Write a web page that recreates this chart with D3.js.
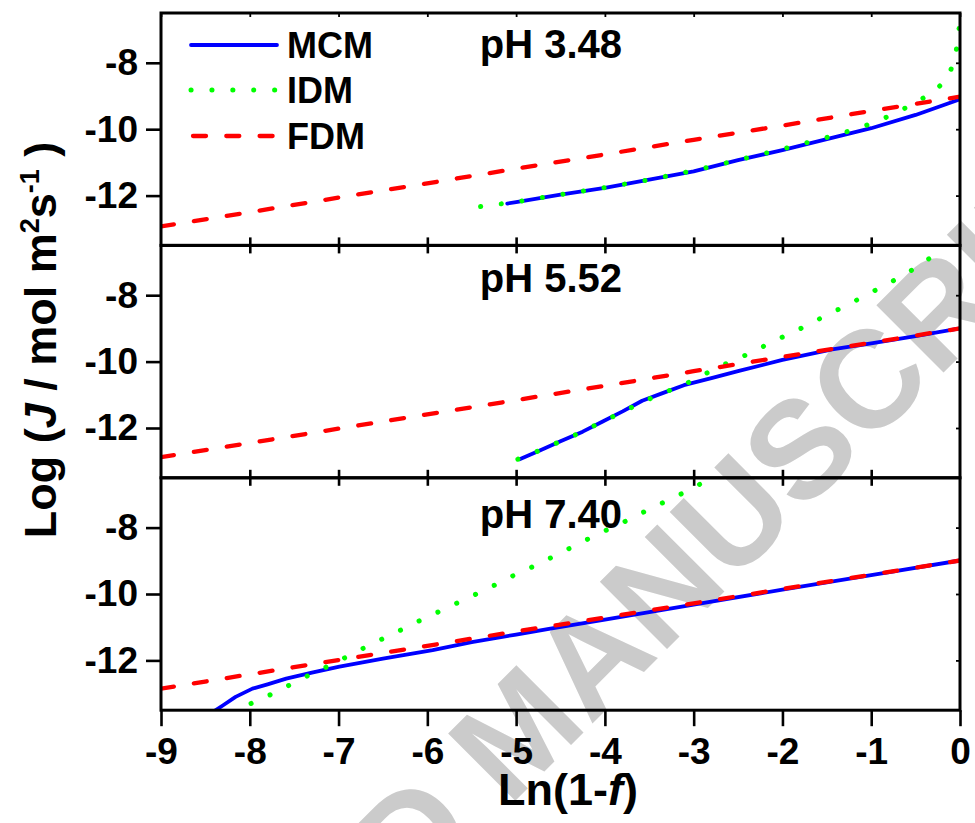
<!DOCTYPE html>
<html><head><meta charset="utf-8">
<script src="https://cdn.jsdelivr.net/npm/d3@7"></script>
<style>body{margin:0;background:#fff} svg{display:block}</style>
</head><body>
<svg id="chart" width="975" height="823"></svg>
<script>
// ---------- data ----------
const xTicks = [-9,-8,-7,-6,-5,-4,-3,-2,-1,0];
const yTicks = [-8,-10,-12];
const panelLabels = ["pH 3.48","pH 5.52","pH 7.40"];
const seriesNames = ["MCM","IDM","FDM"];
const watermarkText = "ACCEPTED MANUSCRIPT";

// pH 3.48
const mcm348X = [-5.1,-5,-4.5,-4,-3.5,-3,-2.5,-2,-1.5,-1,-0.5,0];
const mcm348Y = [-12.24,-12.2,-11.97,-11.77,-11.52,-11.27,-10.93,-10.63,-10.3,-9.97,-9.57,-9.1];
const idm348X = [-5.4,-5,-4.5,-4,-3.5,-3,-2.5,-2,-1.5,-1.2,-1,-0.75,-0.5,-0.3,-0.15,-0.07,-0.03,-0.01,-0.002];
const idm348Y = [-12.33,-12.19,-11.97,-11.76,-11.52,-11.25,-10.93,-10.6,-10.25,-10.02,-9.83,-9.55,-9.2,-8.88,-8.5,-8.0,-7.45,-6.95,-6.4];
const fdm348X = [-9,-8,-7,-6,-5,-4,-3,-2,-1,0];
const fdm348Y = [-12.93,-12.5,-12.06,-11.63,-11.19,-10.76,-10.32,-9.89,-9.45,-9.02];

// pH 5.52
const mcm552X = [-4.96,-4.72,-4.5,-4.25,-4.03,-3.8,-3.58,-3.35,-3.11,-2.8,-2.49,-2,-1.44,-1,-0.5,0];
const mcm552Y = [-12.94,-12.66,-12.4,-12.11,-11.81,-11.5,-11.18,-10.95,-10.71,-10.5,-10.28,-9.95,-9.63,-9.45,-9.23,-9.0];
const idm552X = [-4.98,-4.72,-4.5,-4.25,-4.03,-3.8,-3.58,-3.35,-3.11,-2.88,-2.65,-2.41,-2.19,-1.96,-1.72,-1.49,-1.27,-1.04,-0.8,-0.57,-0.35,-0.18];
const idm552Y = [-12.94,-12.66,-12.4,-12.11,-11.81,-11.52,-11.22,-10.95,-10.7,-10.38,-10.08,-9.8,-9.51,-9.21,-8.91,-8.58,-8.3,-7.97,-7.64,-7.29,-6.9,-6.5];
const fdm552X = [-9,-8,-7,-6,-5,-4,-3,-2,-1,0];
const fdm552Y = [-12.88,-12.45,-12.02,-11.59,-11.16,-10.73,-10.29,-9.86,-9.43,-9.0];

// pH 7.40
const mcm740X = [-8.4,-8.3,-8.16,-7.97,-7.8,-7.59,-7.3,-6.99,-6.5,-5.94,-5.5,-5,-4.63,-4,-3,-2,-1,0];
const mcm740Y = [-13.53,-13.35,-13.1,-12.85,-12.72,-12.55,-12.37,-12.19,-11.95,-11.69,-11.45,-11.22,-11.05,-10.77,-10.32,-9.87,-9.43,-8.99];
const idm740X = [-8.2,-7.98,-7.74,-7.52,-7.27,-7.05,-6.82,-6.6,-6.36,-6.14,-5.9,-5.68,-5.44,-5.21,-4.99,-4.74,-4.52,-4.29,-4.07,-3.82,-3.6,-3.37,-3.15,-2.92,-2.8];
const idm740Y = [-13.55,-13.29,-13.0,-12.7,-12.36,-12.09,-11.77,-11.47,-11.17,-10.87,-10.57,-10.29,-9.99,-9.69,-9.39,-9.09,-8.79,-8.48,-8.18,-7.88,-7.58,-7.28,-7.0,-6.68,-6.5];
const fdm740X = [-9,-8,-7,-6,-5,-4,-3,-2,-1,0];
const fdm740Y = [-12.85,-12.42,-11.99,-11.56,-11.13,-10.71,-10.28,-9.85,-9.42,-8.99];

// ---------- build ----------
const zip = (xs, ys) => xs.map((x, i) => ({x, y: ys[i]}));
const panels = [
  {label: panelLabels[0], series: [zip(mcm348X, mcm348Y), zip(idm348X, idm348Y), zip(fdm348X, fdm348Y)]},
  {label: panelLabels[1], series: [zip(mcm552X, mcm552Y), zip(idm552X, idm552Y), zip(fdm552X, fdm552Y)]},
  {label: panelLabels[2], series: [zip(mcm740X, mcm740Y), zip(idm740X, idm740Y), zip(fdm740X, fdm740Y)]}
];

const styles = [
  {color: "#0000ff", width: 3.8, dash: null, cap: "round"},
  {color: "#00ff00", width: 5, dash: "0.1 20.7", cap: "round"},
  {color: "#ff0000", width: 4.3, dash: "13 20.3", cap: "round"}
];

const svg = d3.select("#chart");
const FONT = "'Liberation Sans', Arial, Helvetica, sans-serif";
const left = 161, right = 960, top0 = 13, panelH = 232.4;
const x = d3.scaleLinear().domain([-9, 0]).range([left, right]);

// watermark (behind everything)
svg.append("text")
  .attr("transform", "translate(552,764) rotate(-45)")
  .attr("text-anchor", "middle")
  .attr("font-family", FONT).attr("font-weight", "bold")
  .attr("font-size", 138).attr("fill", "#cbcbcb")
  .text(watermarkText);

const defs = svg.append("defs");

panels.forEach((p, i) => {
  const top = top0 + i * panelH, bottom = top + panelH;
  const y = d3.scaleLinear().domain([-13.5, -6.5]).range([bottom, top]);
  const g = svg.append("g");

  defs.append("clipPath").attr("id", "clip" + i)
    .append("rect").attr("x", left).attr("y", top).attr("width", right - left).attr("height", panelH);

  const line = d3.line().x(d => x(d.x)).y(d => y(d.y));
  const plot = g.append("g").attr("clip-path", `url(#clip${i})`);
  p.series.forEach((s, k) => {
    const st = styles[k];
    plot.append("path").datum(s)
      .attr("d", line)
      .attr("fill", "none")
      .attr("stroke", st.color)
      .attr("stroke-width", st.width)
      .attr("stroke-linecap", st.cap)
      .attr("stroke-linejoin", "round")
      .attr("stroke-dasharray", st.dash);
  });

  // left axis
  const yAxis = d3.axisLeft(y).tickValues(yTicks).tickSize(15).tickPadding(8).tickFormat(d3.format("d"));
  const ya = g.append("g").attr("transform", `translate(${left},0)`).call(yAxis);
  ya.select(".domain").remove();
  ya.selectAll("line").attr("stroke", "#000").attr("stroke-width", 2.6);
  ya.selectAll("text").attr("font-family", FONT).attr("font-weight", "bold").attr("font-size", 37)
    .attr("fill", "#000").text(d => d < 0 ? "-" + Math.abs(d) : d);

  // right small inward ticks
  const yr = d3.axisRight(y).tickValues(yTicks).tickSize(-4).tickFormat("");
  const yra = g.append("g").attr("transform", `translate(${right},0)`).call(yr);
  yra.select(".domain").remove();
  yra.selectAll("line").attr("stroke", "#000").attr("stroke-width", 1.8);

  // top ticks
  if (i === 0) {
    const xt = d3.axisTop(x).tickValues(xTicks).tickSize(-4).tickFormat("");
    const xta = g.append("g").attr("transform", `translate(0,${top})`).call(xt);
    xta.select(".domain").remove();
    xta.selectAll("line").attr("stroke", "#000").attr("stroke-width", 1.8);
  }
  // bottom ticks
  if (i < 2) {
    const xb = d3.axisBottom(x).tickValues(xTicks.slice(1, -1)).tickSize(8).tickFormat("");
    const xba = g.append("g").attr("transform", `translate(0,${bottom})`).call(xb);
    xba.select(".domain").remove();
    xba.selectAll("line").attr("stroke", "#000").attr("stroke-width", 2.6).attr("y1", -8);
  } else {
    const xb = d3.axisBottom(x).tickValues(xTicks).tickSize(16).tickPadding(12).tickFormat(d => d < 0 ? "-" + Math.abs(d) : d);
    const xba = g.append("g").attr("transform", `translate(0,${bottom})`).call(xb);
    xba.select(".domain").remove();
    xba.selectAll("line").attr("stroke", "#000").attr("stroke-width", 2.6);
    xba.selectAll("text").attr("font-family", FONT).attr("font-weight", "bold").attr("font-size", 37).attr("fill", "#000");
  }

  // frame
  g.append("rect").attr("x", left).attr("y", top).attr("width", right - left).attr("height", panelH)
    .attr("fill", "none").attr("stroke", "#000").attr("stroke-width", 3);

  // panel label
  const labY = [58, 292, 528][i];
  g.append("text").attr("x", 622).attr("y", labY).attr("text-anchor", "end")
    .attr("font-family", FONT).attr("font-weight", "bold").attr("font-size", 40)
    .text(p.label);
});

// legend
const legY = [45, 90, 136];
const leg = svg.append("g");
seriesNames.forEach((name, k) => {
  const st = styles[k];
  leg.append("line").attr("x1", 191).attr("x2", 277).attr("y1", legY[k]).attr("y2", legY[k])
    .attr("stroke", st.color).attr("stroke-width", st.width).attr("stroke-linecap", st.cap)
    .attr("stroke-dasharray", k === 1 ? "0.1 20.8" : (k === 2 ? "13 20.3" : null))
    .attr("transform", k === 2 ? "translate(2,0)" : null);
  leg.append("text").attr("x", 287).attr("y", legY[k] + 13)
    .attr("font-family", FONT).attr("font-weight", "bold").attr("font-size", 36)
    .text(name);
});

// x axis title
const xt = svg.append("text").attr("x", 568).attr("y", 805).attr("text-anchor", "middle")
  .attr("font-family", FONT).attr("font-weight", "bold").attr("font-size", 45);
xt.append("tspan").text("Ln(1-");
xt.append("tspan").attr("font-style", "italic").text("f");
xt.append("tspan").text(")");

// y axis title
const yt = svg.append("text").attr("transform", "translate(56,340) rotate(-90)").attr("text-anchor", "middle")
  .attr("font-family", FONT).attr("font-weight", "bold").attr("font-size", 45);
yt.append("tspan").text("Log (");
yt.append("tspan").attr("font-style", "italic").text("J");
yt.append("tspan").text(" / mol m");
yt.append("tspan").attr("font-size", 27).attr("dy", -17).text("2");
yt.append("tspan").attr("dy", 17).text("s");
yt.append("tspan").attr("font-size", 27).attr("dy", -17).text("-1");
yt.append("tspan").attr("dy", 17).text(" )");
</script>
</body></html>
